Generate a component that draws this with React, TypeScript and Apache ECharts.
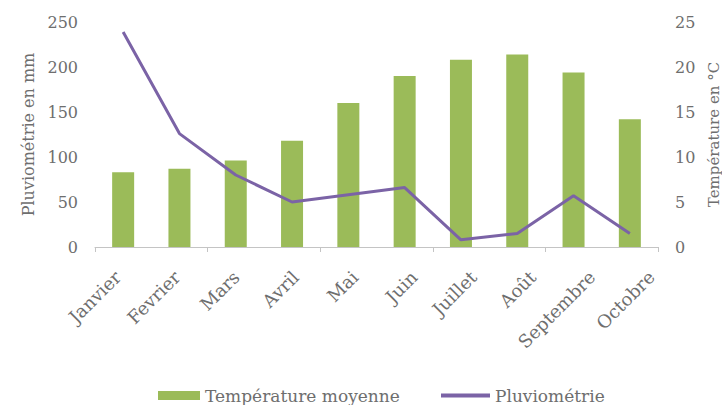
import React, { useEffect, useRef } from "react";
import * as echarts from "echarts";

const categories = ["Janvier", "Fevrier", "Mars", "Avril", "Mai", "Juin", "Juillet", "Août", "Septembre", "Octobre"];
const temperature = [8.3, 8.7, 9.6, 11.8, 16.0, 19.0, 20.8, 21.4, 19.4, 14.2];
const pluviometrie = [239, 126, 80, 50, 58, 66, 8, 15, 57, 15];
const leftTicks = { min: 0, max: 250, interval: 50 };
const rightTicks = { min: 0, max: 25, interval: 5 };

const FONT = "DejaVu Serif";
const GREY = "#6e6e6e";
const GREEN = "#9BBB59";
const PURPLE = "#7B63A6";

export default function App() {
  const ref = useRef<HTMLDivElement>(null);
  useEffect(() => {
    if (!ref.current) return;
    const chart = echarts.init(ref.current, undefined, { renderer: "svg" });
    chart.setOption({
      animation: false,
      textStyle: { fontFamily: FONT },
      grid: [
        { left: 95, right: 64, top: 22, bottom: 158, outerBoundsMode: "none", containLabel: false },
        { left: 88, right: 41, top: 22, bottom: 158, outerBoundsMode: "none", containLabel: false },
      ],
      legend: [
        {
          left: 153,
          top: 382,
          itemWidth: 42,
          itemHeight: 9,
          textStyle: { fontFamily: FONT, fontSize: 17, color: GREY },
          data: [{ name: "Température moyenne", icon: "rect" }],
        },
        {
          left: 436,
          top: 382,
          itemWidth: 49,
          itemHeight: 4,
          textStyle: { fontFamily: FONT, fontSize: 17, color: GREY },
          data: [{ name: "Pluviométrie", icon: "rect" }],
        },
      ],
      xAxis: [
        {
          type: "category",
          gridIndex: 0,
          data: categories,
          axisLine: { lineStyle: { color: "#c4c4c4" } },
          axisTick: { show: true, length: 5, lineStyle: { color: "#c4c4c4" } },
          axisLabel: { show: false },
        },
        {
          type: "category",
          gridIndex: 1,
          data: categories,
          axisLine: { show: false },
          axisTick: { show: false },
          axisLabel: {
            rotate: 45,
            interval: 0,
            color: GREY,
            fontFamily: FONT,
            fontSize: 18,
            margin: 27,
            padding: [20, 0, 0, 0],
          },
        },
      ],
      yAxis: [
        {
          type: "value",
          gridIndex: 0,
          ...leftTicks,
          name: "Pluviométrie en mm",
          nameLocation: "middle",
          nameGap: 59,
          nameTextStyle: { color: GREY, fontFamily: FONT, fontSize: 16 },
          axisLine: { show: false },
          axisTick: { show: false },
          splitLine: { show: false },
          axisLabel: { color: GREY, fontFamily: FONT, fontSize: 16, margin: 17 },
        },
        {
          type: "value",
          gridIndex: 0,
          ...rightTicks,
          position: "right",
          name: "Température en °C",
          nameLocation: "middle",
          nameGap: 36,
          nameRotate: 90,
          nameTextStyle: { color: GREY, fontFamily: FONT, fontSize: 15 },
          axisLine: { show: false },
          axisTick: { show: false },
          splitLine: { show: false },
          axisLabel: { color: GREY, fontFamily: FONT, fontSize: 16, margin: 17 },
        },
        {
          type: "value",
          gridIndex: 1,
          show: false,
          min: 0,
          max: 1,
        },
      ],
      series: [
        {
          name: "Température moyenne",
          type: "bar",
          xAxisIndex: 0,
          yAxisIndex: 1,
          data: temperature,
          barWidth: 22,
          itemStyle: { color: GREEN },
        },
        {
          name: "Pluviométrie",
          type: "line",
          xAxisIndex: 0,
          yAxisIndex: 0,
          data: pluviometrie,
          symbol: "none",
          lineStyle: { color: PURPLE, width: 3 },
          itemStyle: { color: PURPLE },
        },
      ],
    });
    return () => chart.dispose();
  }, []);
  return (
    <div
      ref={ref}
      style={{ position: "absolute", left: 0, top: 0, width: 722, height: 405 }}
    />
  );
}
